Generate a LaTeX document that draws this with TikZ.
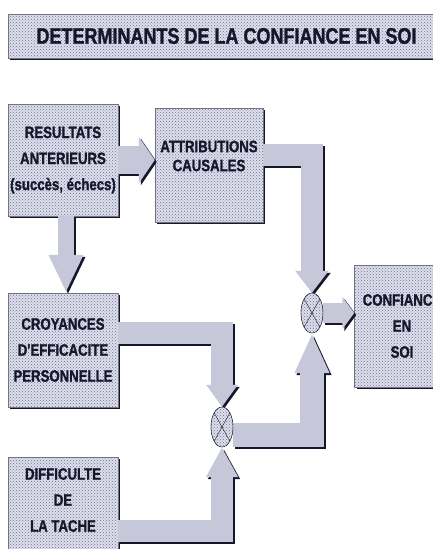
\documentclass[tikz,border=0pt]{standalone}
\usepackage{fontspec}
\newfontfamily\diagfont{Liberation Sans}[FakeStretch=0.8,FakeBold=1.2]
\usetikzlibrary{shapes.geometric,shadows,patterns,arrows.meta}
\definecolor{boxfill}{RGB}{222,223,236}
\definecolor{dotgray}{RGB}{110,112,140}
\definecolor{pipefill}{RGB}{198,200,218}
\definecolor{inkdark}{RGB}{22,22,44}
\tikzstyle{boxtext}=[text=inkdark,align=center,font=\diagfont\bfseries\fontsize{16.5}{26}\selectfont]
\tikzstyle{box}=[boxtext,draw=inkdark!60,line width=.5pt,inner sep=0pt,
  drop shadow={shadow xshift=2pt,shadow yshift=-2pt,fill=inkdark,opacity=1},
  preaction={fill=boxfill},pattern=crosshatch dots,pattern color=dotgray]
\tikzstyle{pipe}=[draw=pipefill,line join=miter]
\tikzstyle{pipeshadow}=[draw=inkdark,line join=miter,transform canvas={shift={(2pt,-2pt)}}]
\tikzstyle{mult}=[ellipse,draw=inkdark,minimum width=22pt,minimum height=40pt,inner sep=0pt,
  preaction={fill=boxfill},pattern=crosshatch dots,pattern color=dotgray]
\newcommand{\pipeline}[2]{\draw[pipeshadow,#1] #2; \draw[pipe,#1] #2;}

\begin{document}
\begin{tikzpicture}[x=1pt,y=-1pt]
\clip (0,0) rectangle (433,549);
\fill[white] (0,0) rectangle (433,549);

\node[box,minimum width=437pt,minimum height=44pt,font=\diagfont\bfseries\fontsize{22.5}{25}\selectfont] (title) at (226.5,36) {DETERMINANTS DE LA CONFIANCE EN SOI};

\node[box,minimum width=110pt,minimum height=112pt] (res) at (63,160) {RESULTATS\\ANTERIEURS\\(succès, échecs)};
\node[box,minimum width=108pt,minimum height=114pt,
  label={[boxtext,font=\diagfont\bfseries\fontsize{16.5}{19}\selectfont,yshift=9pt]center:{ATTRIBUTIONS\\CAUSALES}}] (att) at (209,165) {};
\node[box,minimum width=110pt,minimum height=114pt] (cro) at (63,350) {CROYANCES\\D'EFFICACITE\\PERSONNELLE};
\node[box,minimum width=110pt,minimum height=113pt,
  label={[boxtext,yshift=13.5pt]center:{DIFFICULTE\\DE\\LA TACHE}}] (dif) at (63,513.5) {};
\node[box,minimum width=95pt,minimum height=122pt] (conf) at (402,326) {CONFIANCE\\EN\\SOI};

\node[mult] (c1) at (312,313) {};
\node[mult] (c2) at (222,427) {};

% connecteurs
\pipeline{line width=28pt,-{Triangle[width=46pt,length=16pt]}}{(res.east) -- (res.east -| att.west)}
\pipeline{line width=16pt,-{Triangle[width=32pt,length=38pt]}}{([xshift=3pt]res.south) -- ([xshift=3pt]cro.north)}
\pipeline{line width=22pt,-{Triangle[width=32pt,length=22pt]}}{([yshift=10pt]att.east) -| (c1.north)}
\pipeline{line width=20pt,-{Triangle[width=32pt,length=12pt]}}{(c1.east) -- (c1.east -| conf.west)}
\pipeline{line width=22pt,-{Triangle[width=30pt,length=22pt]}}{([yshift=17pt]cro.east) -| (c2.north)}
\pipeline{line width=24pt,-{Triangle[width=32pt,length=40pt]}}{([yshift=-8pt]c2.east) -| (c1.south)}
\pipeline{line width=22pt,-{Triangle[width=30pt,length=30pt]}}{([yshift=-17pt]dif.east) -| (c2.south)}

% produits
\node[mult] at (c1) {};
\node[mult] at (c2) {};
\draw[inkdark] (c1.north west) -- (c1.south east) (c1.north east) -- (c1.south west);
\draw[inkdark] (c2.north west) -- (c2.south east) (c2.north east) -- (c2.south west);
\end{tikzpicture}
\end{document}
